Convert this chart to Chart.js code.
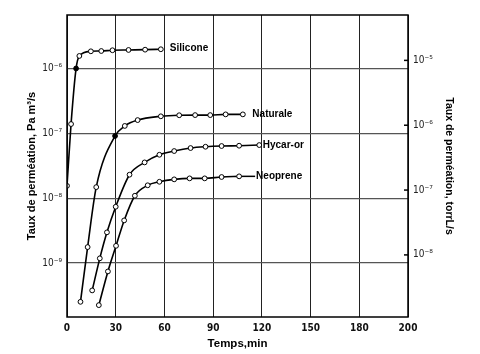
<!DOCTYPE html>
<html><head><meta charset="utf-8">
<script src="https://cdn.jsdelivr.net/npm/chart.js@4.4.1/dist/chart.umd.min.js"></script>
<style>html,body{margin:0;padding:0;background:#fff}#wrap{width:480px;height:354px}</style>
</head><body><div id="wrap"><canvas id="c" width="480" height="354"></canvas></div>
<script>
// ---- data (time in min, permeation rate in Pa m3/s) ----
const seriesNames = ['Silicone', 'Naturale', 'Hycar-or', 'Neoprene'];
const siliconeX = [0, 2.5, 5.6, 7.6, 14.7, 21.1, 28, 37.9, 48.1, 57.8];
const siliconeY = [1.55e-8, 1.39e-7, 1.0e-6, 1.56e-6, 1.84e-6, 1.86e-6, 1.91e-6, 1.93e-6, 1.95e-6, 1.98e-6];
const naturaleX = [8.3, 12.7, 18.0, 29.6, 35.6, 43.5, 57.8, 69.1, 78.9, 88.2, 97.7, 108.3];
const naturaleY = [2.52e-10, 1.76e-9, 1.48e-8, 9.1e-8, 1.30e-7, 1.60e-7, 1.83e-7, 1.90e-7, 1.91e-7, 1.91e-7, 1.96e-7, 1.96e-7];
const hycarX = [15.5, 20.2, 24.6, 30.0, 38.5, 47.8, 56.9, 66.0, 76.1, 85.3, 95.2, 106.0, 118.4];
const hycarY = [3.78e-10, 1.18e-9, 2.97e-9, 7.37e-9, 2.30e-8, 3.56e-8, 4.67e-8, 5.33e-8, 5.93e-8, 6.21e-8, 6.37e-8, 6.44e-8, 6.59e-8];
const neopreneX = [19.6, 25.2, 30.2, 35.2, 41.8, 49.7, 56.9, 66.0, 75.5, 84.8, 95.2, 106.0];
const neopreneY = [2.24e-10, 7.41e-10, 1.84e-9, 4.54e-9, 1.09e-8, 1.58e-8, 1.79e-8, 1.95e-8, 2.02e-8, 2.02e-8, 2.12e-8, 2.17e-8];

const xTickValues = [0, 30, 60, 90, 120, 150, 180, 210];
const xTickLabels = ['0', '30', '60', '90', '120', '150', '180', '200'];
const leftTickValues = [1e-9, 1e-8, 1e-7, 1e-6];
const leftTickLabels = ['10⁻⁹', '10⁻⁸', '10⁻⁷', '10⁻⁶'];
const rightTickValues = [1e-8, 1e-7, 1e-6, 1e-5];
const rightTickLabels = ['10⁻⁸', '10⁻⁷', '10⁻⁶', '10⁻⁵'];
const PA_M3_TO_TORR_L = 7.5;
const yMin = 1.47e-10, yMax = 6.68e-6;

// ---- build ----
const toPts = (xs, ys) => xs.map((x, i) => ({x: x, y: ys[i]}));
const seriesX = [siliconeX, naturaleX, hycarX, neopreneX];
const seriesY = [siliconeY, naturaleY, hycarY, neopreneY];
const filledIndex = [2, 3, -1, -1];
const labelStyle = [{dx: 9, dy: -1, lead: false}, {dx: 9.5, dy: 0, lead: false}, {dx: 3.5, dy: 0, lead: false}, {dx: 17, dy: 0, lead: true}];

const narrow = "'Liberation Sans Narrow','Arial Narrow','DejaVu Sans Condensed',sans-serif";
const sans = "'Liberation Sans',Arial,Helvetica,sans-serif";

const datasets = seriesNames.map((n, k) => ({
  label: n,
  data: toPts(seriesX[k], seriesY[k]),
  borderColor: '#000',
  borderWidth: 1.6,
  cubicInterpolationMode: 'monotone',
  pointRadius: 2.4,
  pointBorderWidth: 1,
  pointBorderColor: '#000',
  pointBackgroundColor: seriesX[k].map((_, i) => i === filledIndex[k] ? '#000' : '#fff'),
  yAxisID: 'y'
}));

const decor = {
  id: 'decor',
  afterDatasetsDraw(chart) {
    const ctx = chart.ctx, a = chart.chartArea;
    ctx.save();
    ctx.strokeStyle = '#000';
    ctx.lineWidth = 1.5;
    ctx.strokeRect(a.left, a.top, a.right - a.left, a.bottom - a.top);
    // right axis inner tick marks
    const y2 = chart.scales.y2;
    ctx.lineWidth = 1.5;
    rightTickValues.forEach(v => {
      const py = y2.getPixelForValue(v);
      ctx.beginPath(); ctx.moveTo(a.right - 4, py); ctx.lineTo(a.right, py); ctx.stroke();
    });
    // series labels
    ctx.font = 'bold 10px ' + sans;
    ctx.fillStyle = '#000';
    ctx.textBaseline = 'middle';
    chart.data.datasets.forEach((ds, i) => {
      const meta = chart.getDatasetMeta(i);
      const last = meta.data[meta.data.length - 1];
      const st = labelStyle[i];
      if (st.lead) {
        ctx.lineWidth = 1.5;
        ctx.beginPath(); ctx.moveTo(last.x + 2.4, last.y); ctx.lineTo(last.x + st.dx - 1, last.y); ctx.stroke();
      }
      ctx.fillText(ds.label, last.x + st.dx, last.y + st.dy);
    });
    ctx.restore();
  }
};

new Chart(document.getElementById('c'), {
  type: 'line',
  data: {datasets: datasets},
  options: {
    responsive: false,
    animation: false,
    devicePixelRatio: 1,
    layout: {padding: {top: 15, left: 0, right: 0, bottom: 0}},
    plugins: {legend: {display: false}, tooltip: {enabled: false}},
    scales: {
      x: {
        type: 'linear', min: 0, max: 210,
        afterBuildTicks: s => { s.ticks = xTickValues.map(v => ({value: v})); },
        afterFit: s => { s.height = 37; },
        ticks: {
          autoSkip: false, maxRotation: 0, padding: 5, color: '#111',
          font: {family: narrow, size: 10, weight: 'bold'},
          callback: v => xTickLabels[xTickValues.indexOf(v)]
        },
        grid: {color: '#222', lineWidth: 1, drawTicks: false},
        border: {display: false},
        title: {display: true, text: 'Temps,min', color: '#000',
          font: {family: sans, size: 11.5, weight: 'bold'}, padding: {top: 0, bottom: 3}}
      },
      y: {
        type: 'logarithmic', position: 'left', min: yMin, max: yMax,
        afterBuildTicks: s => { s.ticks = leftTickValues.map(v => ({value: v})); },
        afterFit: s => { s.width = 67; },
        ticks: {
          padding: 5, color: '#222', font: {family: narrow, size: 10},
          callback: v => leftTickLabels[leftTickValues.findIndex(t => Math.abs(t - v) / t < 1e-6)]
        },
        grid: {color: '#555', lineWidth: 1.3, drawTicks: false},
        border: {display: false},
        title: {display: true, text: 'Taux de perméation, Pa m³/s', color: '#000',
          font: {family: sans, size: 11, weight: 'bold'}, padding: {top: 25, bottom: 0}}
      },
      y2: {
        type: 'logarithmic', position: 'right',
        min: yMin * PA_M3_TO_TORR_L, max: yMax * PA_M3_TO_TORR_L,
        afterBuildTicks: s => { s.ticks = rightTickValues.map(v => ({value: v})); },
        afterFit: s => { s.width = 72; },
        ticks: {
          padding: 5, color: '#222', font: {family: narrow, size: 10},
          callback: v => rightTickLabels[rightTickValues.findIndex(t => Math.abs(t - v) / t < 1e-6)]
        },
        grid: {display: false, drawTicks: false},
        border: {display: false},
        title: {display: true, text: 'Taux de perméation, torrL/s', color: '#000',
          font: {family: sans, size: 10.5, weight: 'bold'}, padding: {top: 25, bottom: 0}}
      }
    }
  },
  plugins: [decor]
});
</script></body></html>
